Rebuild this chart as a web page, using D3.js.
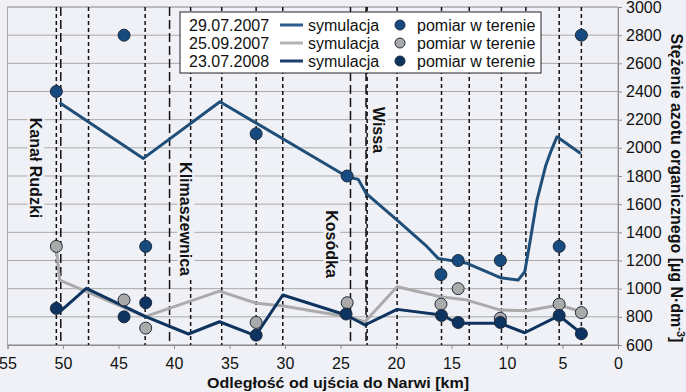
<!DOCTYPE html>
<html>
<head>
<meta charset="utf-8">
<script src="https://cdnjs.cloudflare.com/ajax/libs/d3/7.8.5/d3.min.js"></script>
<style>
  body { margin: 0; background: #f0f1f6; }
  svg { font-family: "Liberation Sans", Arial, sans-serif; display: block; }
</style>
</head>
<body>
<div id="chart"></div>
<script>
// km from the mouth, value in µg N/dm3
var sim2007a = [[50.3,2320],[42.76,1925],[35.86,2327],[24.4,1795],[23.4,1776],[22.7,1677],[19.9,1487],
  [17.2,1298],[16.2,1215],[13.6,1180],[10.6,1078],[9.0,1061],[8.4,1120],[7.9,1345],[7.3,1629],
  [6.5,1877],[6.0,1984],[5.5,2078],[3.36,1960]];
var meas2007a = [[50.6,2400],[44.5,2800],[42.55,1300],[32.6,2100],[24.4,1800],[15.95,1100],
  [14.4,1200],[10.6,1200],[5.3,1300],[3.3,2800]];

var sim2007b = [[50.6,1290],[50.3,1060],[42.6,801],[35.9,983],[32.55,896],[30.15,877],[24.4,801],
  [22.8,765],[19.9,1014],[16.0,943],[13.6,919],[10.6,848],[8.2,843],[5.3,884],[3.3,836]];
var meas2007b = [[50.6,1300],[44.5,920],[42.55,720],[32.6,760],[24.4,900],[15.95,890],
  [14.4,1000],[10.6,790],[5.3,890],[3.3,830]];

var sim2008 = [[50.6,860],[50.3,836],[47.9,1002],[42.55,801],[38.7,678],[35.9,765],[32.65,666],
  [30.2,955],[24.5,813],[22.8,742],[19.9,853],[15.9,813],[14.4,754],[10.6,754],[8.4,687],
  [5.3,808],[3.3,683]];
var meas2008 = [[50.6,860],[44.5,800],[42.55,900],[32.6,670],[24.5,820],[15.9,810],
  [14.4,760],[10.6,760],[5.3,810],[3.3,680]];

// measurement cross-sections (short dash) and tributaries (long dash)
var sections = [50.6,47.7,42.6,38.5,35.7,32.6,30.2,22.6,19.9,15.9,13.4,10.5,8.3,5.3,3.3];
var tributaries = [
  {km:50.2, name:"Kanał Rudzki", lx:36, ly:168},
  {km:40.4, name:"Klimaszewnica", lx:186, ly:219},
  {km:24.1, name:"Kosódka", lx:332, ly:244},
  {km:22.7, name:"Wissa", lx:379, ly:130}
];

var xTicks = [55,50,45,40,35,30,25,20,15,10,5,0];
var yTicks = [600,800,1000,1200,1400,1600,1800,2000,2200,2400,2600,2800,3000];

var series = [
  {date:"29.07.2007", sim:sim2007a, meas:meas2007a, line:"#1f4e79", dot:"#174a7e", legLine:"#2b5b8f"},
  {date:"25.09.2007", sim:sim2007b, meas:meas2007b, line:"#ababab", dot:"#aaaaaa", legLine:"#b3b3b3"},
  {date:"23.07.2008", sim:sim2008, meas:meas2008, line:"#0e335f", dot:"#0d3360", legLine:"#1c3f6e"}
];

var W = 686, H = 392;
var margin = {top: 7, right: 68, bottom: 47, left: 7.5},
    width = W - margin.left - margin.right,
    height = H - margin.top - margin.bottom;

var svg = d3.select("#chart").append("svg")
    .attr("width", W).attr("height", H);
svg.append("rect").attr("width", W).attr("height", H).attr("fill", "#f0f1f6");

var g = svg.append("g")
    .attr("transform", "translate(" + margin.left + "," + margin.top + ")");

var x = d3.scaleLinear().domain([55, 0]).range([0, width]);
var y = d3.scaleLinear().domain([600, 3000]).range([height, 0]);

// plot area
g.append("rect").attr("width", width).attr("height", height)
  .attr("fill", "#eff1f7").attr("stroke", "#a9a9a9").attr("stroke-width", 1);

// gridlines
g.selectAll(".grid").data(yTicks).enter().append("line")
  .attr("x1", 0).attr("x2", width)
  .attr("y1", function(d){ return y(d); }).attr("y2", function(d){ return y(d); })
  .attr("stroke", "#a9a9a9").attr("stroke-width", 1);

// right axis
var yAxis = g.append("g").attr("transform", "translate(" + width + ",0)")
  .call(d3.axisRight(y).tickValues(yTicks).tickFormat(d3.format("d")).tickSize(4).tickPadding(4));
yAxis.select(".domain").attr("stroke", "#8c8c8c");
yAxis.selectAll(".tick line").attr("stroke", "#8c8c8c");
yAxis.selectAll("text").style("font-size", "16px").attr("fill", "#111");

// bottom axis
var xAxis = g.append("g").attr("transform", "translate(0," + height + ")")
  .call(d3.axisBottom(x).tickValues(xTicks).tickFormat(d3.format("d")).tickSize(4).tickPadding(9));
xAxis.select(".domain").attr("stroke", "#8c8c8c");
xAxis.selectAll(".tick line").attr("stroke", "#8c8c8c");
xAxis.selectAll("text").style("font-size", "16px").attr("fill", "#111");

// vertical dashed lines
g.selectAll(".sec").data(sections).enter().append("line")
  .attr("x1", function(d){ return x(d); }).attr("x2", function(d){ return x(d); })
  .attr("y1", 0).attr("y2", height)
  .attr("stroke", "#111").attr("stroke-width", 1.5).attr("stroke-dasharray", "4,3");
g.selectAll(".trib").data(tributaries).enter().append("line")
  .attr("x1", function(d){ return x(d.km); }).attr("x2", function(d){ return x(d.km); })
  .attr("y1", 0).attr("y2", height)
  .attr("stroke", "#111").attr("stroke-width", 1.5).attr("stroke-dasharray", "9,4");

// tributary labels
tributaries.forEach(function(t) {
  var lg = svg.append("g").attr("transform", "translate(" + t.lx + "," + t.ly + ") rotate(90)");
  var txt = lg.append("text").attr("text-anchor", "middle").attr("dy", "0.35em")
    .style("font-size", "16px").style("font-weight", "bold").attr("fill", "#111").text(t.name);
  var bb = txt.node().getBBox();
  lg.insert("rect", "text").attr("x", bb.x - 2).attr("y", bb.y)
    .attr("width", bb.width + 4).attr("height", bb.height).attr("fill", "#eff1f7");
});

// simulation lines
var line = d3.line().x(function(d){ return x(d[0]); }).y(function(d){ return y(d[1]); });
series.forEach(function(s) {
  g.append("path").datum(s.sim).attr("d", line)
    .attr("fill", "none").attr("stroke", s.line).attr("stroke-width", 3)
    .attr("stroke-linejoin", "round");
});

// measurements
series.forEach(function(s) {
  g.selectAll(null).data(s.meas).enter().append("circle")
    .attr("cx", function(d){ return x(d[0]); }).attr("cy", function(d){ return y(d[1]); })
    .attr("r", 6).attr("fill", s.dot).attr("stroke", "#1e2a3a").attr("stroke-width", 1);
});

// legend
var leg = svg.append("g").attr("transform", "translate(180,12)");
leg.append("rect").attr("width", 361).attr("height", 61)
  .attr("fill", "#ffffff").attr("stroke", "#222").attr("stroke-width", 1);
series.forEach(function(s, i) {
  var ry = 13 + i * 18;
  leg.append("text").attr("x", 9).attr("y", ry).attr("dy", "0.35em")
    .style("font-size", "16px").attr("fill", "#111").text(s.date);
  leg.append("line").attr("x1", 100).attr("x2", 123).attr("y1", ry).attr("y2", ry)
    .attr("stroke", s.legLine).attr("stroke-width", 3);
  leg.append("text").attr("x", 128).attr("y", ry).attr("dy", "0.35em")
    .style("font-size", "16px").attr("fill", "#111").text("symulacja");
  leg.append("circle").attr("cx", 220).attr("cy", ry).attr("r", 5)
    .attr("fill", s.dot).attr("stroke", "#1e2a3a").attr("stroke-width", 1);
  leg.append("text").attr("x", 237).attr("y", ry).attr("dy", "0.35em")
    .style("font-size", "16px").attr("fill", "#111").text("pomiar w terenie");
});

// axis titles
svg.append("text").attr("x", 338).attr("y", 388)
  .attr("text-anchor", "middle").style("font-size", "15px").style("font-weight", "bold")
  .attr("textLength", 262).attr("lengthAdjust", "spacingAndGlyphs")
  .attr("fill", "#111").text("Odległość od ujścia do Narwi [km]");

var yt = svg.append("text").attr("transform", "translate(671,188) rotate(90)")
  .attr("text-anchor", "middle").style("font-size", "16px").style("font-weight", "bold")
  .attr("fill", "#111");
yt.append("tspan").text("Stężenie azotu organicznego [µg N·dm");
yt.append("tspan").attr("dy", "-6").style("font-size", "11px").text("-3");
yt.append("tspan").attr("dy", "6").text("]");
</script>
</body>
</html>
